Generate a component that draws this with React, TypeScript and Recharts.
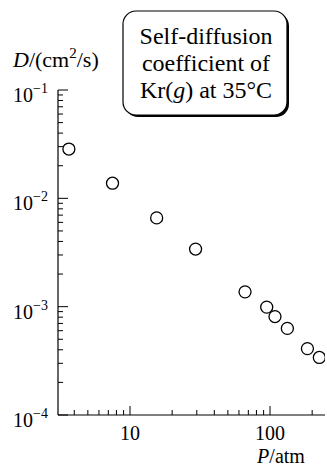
import React from 'react';
import { ScatterChart, Scatter, XAxis, YAxis, Customized } from 'recharts';

const pressure = [3.66, 7.5, 15.5, 29.4, 66.3, 94.7, 108.5, 133, 185, 225];
const diffusion = [0.0285, 0.0138, 0.0066, 0.0034, 0.00137, 0.00099, 0.00081, 0.00063, 0.00041, 0.00034];

const xDomain = [3.06, 247];
const yDomain = [1e-4, 1e-1];
const xMajor = [10, 100];
const xTicks = [4, 5, 6, 7, 8, 9, 10, 20, 30, 40, 50, 60, 70, 80, 90, 100, 200];
const yMajor = [1e-4, 1e-3, 1e-2, 1e-1];
const yMinorSteps = [2, 3, 4, 5, 6, 7, 8, 9];
const boxLines = ['Self-diffusion', 'coefficient of'];

const FONT = '"Liberation Serif", "DejaVu Serif", serif';

const points = pressure.map((p, i) => ({ p, d: diffusion[i] }));
const yTicks = [
  ...yMajor,
  ...yMajor.slice(0, 3).flatMap((dec) => yMinorSteps.map((m) => m * dec)),
].sort((a, b) => a - b);

function XTick(props: any) {
  const { x, y, payload } = props;
  const major = xMajor.includes(payload.value);
  return (
    <g>
      <line x1={x} y1={y} x2={x} y2={y - (major ? 9 : 5)} stroke="#000" strokeWidth={1} />
      {major && (
        <text x={x} y={y + 25} textAnchor="middle" fontSize={20} fontFamily={FONT} fill="#000">
          {payload.value}
        </text>
      )}
    </g>
  );
}

function YTick(props: any) {
  const { x, y, payload } = props;
  const major = yMajor.includes(payload.value);
  const exp = Math.round(Math.log10(payload.value));
  return (
    <g>
      <line x1={x} y1={y} x2={x + (major ? 10 : 5)} y2={y} stroke="#000" strokeWidth={1} />
      {major && (
        <text x={x - 45} y={y + 12} fontSize={20} fontFamily={FONT} fill="#000">
          <tspan>10</tspan>
          <tspan dy={-9} fontSize={14}>{'\u2212' + Math.abs(exp)}</tspan>
        </text>
      )}
    </g>
  );
}

function Annotations() {
  return (
    <g fontFamily={FONT} fill="#000">
      <text x={13} y={67} fontSize={22}>
        <tspan fontStyle="italic">D</tspan>
        <tspan>/(cm</tspan>
        <tspan dy={-9} fontSize={15}>2</tspan>
        <tspan dy={9}>/s)</tspan>
      </text>
      <text x={281} y={463} fontSize={20} textAnchor="middle">
        <tspan fontStyle="italic">P</tspan>
        <tspan>/atm</tspan>
      </text>
      <rect x={125} y={13} width={164} height={104} rx={13} fill="#000" />
      <rect x={123} y={11} width={164} height={104} rx={13} fill="#fff" stroke="#000" strokeWidth={1.2} />
      <text x={206} y={44} fontSize={24} textAnchor="middle">{boxLines[0]}</text>
      <text x={206} y={71} fontSize={24} textAnchor="middle">{boxLines[1]}</text>
      <text x={206} y={98} fontSize={24} textAnchor="middle">
        <tspan>Kr(</tspan>
        <tspan fontStyle="italic">g</tspan>
        <tspan>) at 35°C</tspan>
      </text>
    </g>
  );
}

const Ring = (props: any) => (
  <circle cx={props.cx} cy={props.cy} r={6} fill="#fff" stroke="#000" strokeWidth={1.3} />
);

export default function App() {
  return (
    <div style={{ position: 'absolute', left: 0, top: 0, background: '#fff' }}>
      <ScatterChart width={327} height={466} margin={{ top: 90, right: 2, bottom: 0, left: 0 }}>
        <XAxis
          type="number"
          dataKey="p"
          scale="log"
          domain={xDomain}
          allowDataOverflow
          ticks={xTicks}
          interval={0}
          tickSize={0}
          tickMargin={0}
          tickLine={false}
          tick={<XTick />}
          height={51}
          axisLine={{ stroke: '#000', strokeWidth: 1.2 }}
        />
        <YAxis
          type="number"
          dataKey="d"
          scale="log"
          domain={yDomain}
          allowDataOverflow
          ticks={yTicks}
          interval={0}
          tickSize={0}
          tickMargin={0}
          tickLine={false}
          tick={<YTick />}
          width={58}
          axisLine={{ stroke: '#000', strokeWidth: 1.2 }}
        />
        <Scatter data={points} shape={<Ring />} isAnimationActive={false} />
        <Customized component={<Annotations />} />
      </ScatterChart>
    </div>
  );
}
